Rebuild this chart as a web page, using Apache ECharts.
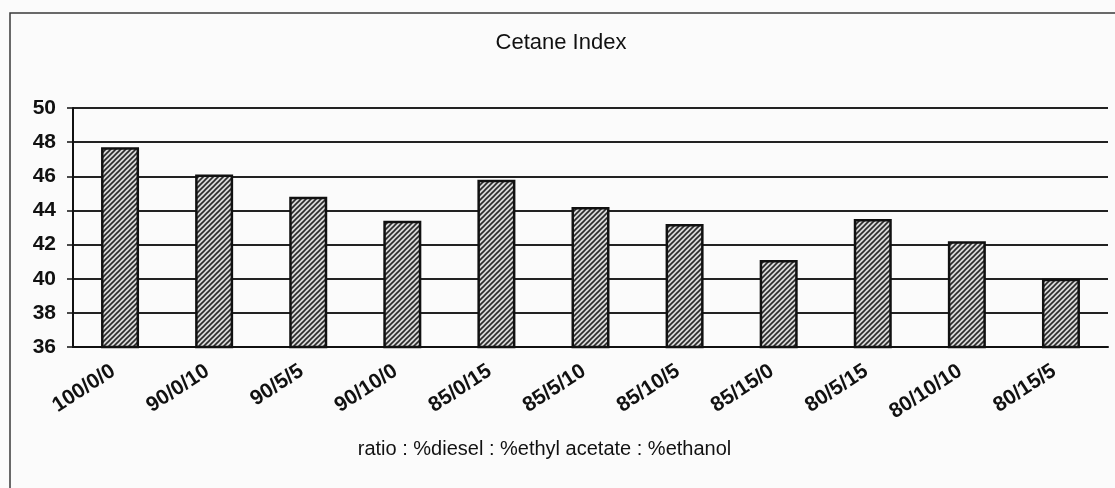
<!DOCTYPE html>
<html>
<head>
<meta charset="utf-8">
<script src="https://cdn.jsdelivr.net/npm/echarts@6/dist/echarts.min.js"></script>
<style>
  html, body { margin: 0; padding: 0; background: #fbfbfb; }
  #chart { width: 1115px; height: 488px; }
</style>
</head>
<body>
<div id="chart"></div>
<script>
// Blend ratios (diesel / ethyl acetate / ethanol) and their cetane index
const categories = ['100/0/0', '90/0/10', '90/5/5', '90/10/0', '85/0/15', '85/5/10',
                    '85/10/5', '85/15/0', '80/5/15', '80/10/10', '80/15/5'];
const cetaneIndex = [47.7, 46.1, 44.8, 43.4, 45.8, 44.2, 43.2, 41.1, 43.5, 42.2, 40.0];
const yTicks = { min: 36, max: 50, step: 2 };

// Diagonal hatch tile used to fill the bars
function hatchTile() {
  const s = 5;
  const c = document.createElement('canvas');
  c.width = s; c.height = s;
  const g = c.getContext('2d');
  g.fillStyle = '#d8d8d8';
  g.fillRect(0, 0, s, s);
  g.strokeStyle = '#2a2a2a';
  g.lineWidth = 1.6;
  g.beginPath();
  g.moveTo(-1, s + 1); g.lineTo(s + 1, -1);
  g.moveTo(-1, 1); g.lineTo(1, -1);
  g.moveTo(s - 1, s + 1); g.lineTo(s + 1, s - 1);
  g.stroke();
  return c;
}

const chart = echarts.init(document.getElementById('chart'));
const font = 'Liberation Sans, Arial, sans-serif';
const ink = '#111';

chart.setOption({
  backgroundColor: '#fbfbfb',
  animation: false,
  title: {
    text: 'Cetane Index',
    left: 556, top: 27, textAlign: 'center',
    textStyle: { fontFamily: font, fontSize: 22, fontWeight: 'normal', color: ink }
  },
  graphic: [{
    type: 'rect',
    shape: { x: 10, y: 13, width: 1300, height: 700 },
    style: { fill: 'none', stroke: '#3a3a3a', lineWidth: 1.5 },
    silent: true, z: 0
  }],
  grid: { left: 73, right: 7, top: 108, bottom: 141 },
  xAxis: {
    type: 'category',
    data: categories,
    name: 'ratio : %diesel : %ethyl acetate : %ethanol',
    nameLocation: 'middle',
    nameGap: 92,
    nameTextStyle: { fontFamily: font, fontSize: 20, color: ink, padding: [0, 92, 0, 0] },
    axisLine: { lineStyle: { color: ink, width: 2 } },
    axisTick: { length: 6, lineStyle: { color: ink, width: 1.5 } },
    axisLabel: {
      rotate: 33, margin: 18, interval: 0, padding: [0, 8, 0, 0],
      fontFamily: font, fontSize: 21, fontWeight: 'bold', color: ink
    }
  },
  yAxis: {
    type: 'value',
    min: yTicks.min, max: yTicks.max, interval: yTicks.step,
    axisLine: { show: true, lineStyle: { color: ink, width: 2 } },
    axisTick: { show: true, length: 6, lineStyle: { color: ink, width: 1.5 } },
    axisLabel: { margin: 17, fontFamily: font, fontSize: 21, fontWeight: 'bold', color: ink },
    splitLine: { lineStyle: { color: '#222', width: 1.8 } }
  },
  series: [{
    type: 'bar',
    data: cetaneIndex,
    barWidth: 38,
    itemStyle: {
      color: { image: hatchTile(), repeat: 'repeat' },
      borderColor: ink,
      borderWidth: 2.5
    }
  }]
});
</script>
</body>
</html>
